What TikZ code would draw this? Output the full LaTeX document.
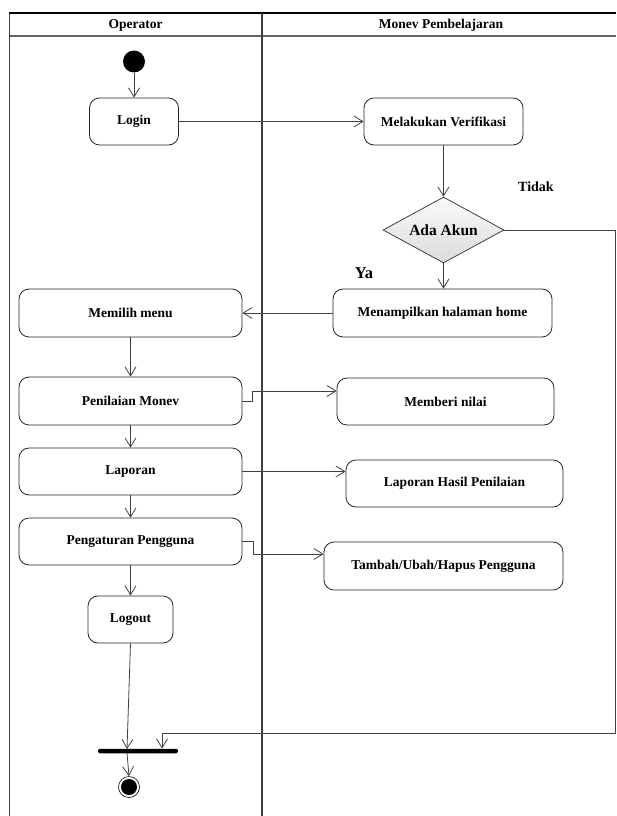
\documentclass[tikz,border=0pt]{standalone}
\usepackage{fontspec}
\setmainfont{Liberation Serif}
\usetikzlibrary{arrows.meta,shapes.geometric}
\begin{document}
\begin{tikzpicture}[x=1pt,y=-1pt,
  act/.style={draw=black!85, line width=0.8pt, rounded corners=10pt, inner sep=0pt,
    font=\fontsize{13.5}{16}\selectfont\bfseries, align=center},
  arr/.style={draw=black!75, line width=0.8pt, -{Straight Barb[length=9pt,width=11pt,line width=0.8pt]}},
  lane/.style={draw=black!75, line width=1.4pt},
  hdr/.style={font=\fontsize{13.5}{16}\selectfont\bfseries},
  lbl/.style={font=\fontsize{14}{16}\selectfont\bfseries}
]
\useasboundingbox (0,0) rectangle (616,816);
% swimlanes
\draw[draw=black, line width=1.2pt] (9,13) -- (616,13);
\draw[draw=black!60, line width=1.4pt] (9,36) -- (616,36);
\draw[lane] (9.5,13) -- (9.5,816);
\draw[lane] (262,13) -- (262,816);
\node[hdr] (hop) at (135.5,25) {Operator};
\node[hdr] (hmp) at (441,25) {Monev Pembelajaran};

% nodes
\node[circle, fill=black, inner sep=0pt, minimum size=22pt] (start) at (134,61.5) {};
\node[act, minimum width=89pt, minimum height=47pt] (login) at (134,121.5) {Login};
\node[act, minimum width=159pt, minimum height=47pt] (verif) at (443.5,121.5) {Melakukan Verifikasi};
\node[diamond, draw=black!75, line width=0.8pt, top color=gray!4, bottom color=gray!28,
  inner sep=0pt, minimum width=121pt, minimum height=66pt, aspect=1.83,
  font=\fontsize{15.5}{18}\selectfont\bfseries] (akun) at (443.5,230) {Ada Akun};
\node[act, minimum width=219pt, minimum height=48pt] (menampil) at (442.5,313) {Menampilkan halaman home};
\node[act, minimum width=223pt, minimum height=48pt] (memilih) at (130.5,313) {Memilih menu};
\node[act, minimum width=223pt, minimum height=48pt] (penilaian) at (130.5,401) {Penilaian Monev};
\node[act, minimum width=217pt, minimum height=47pt] (memberi) at (445.5,401.5) {Memberi nilai};
\node[act, minimum width=223pt, minimum height=47pt] (laporan) at (130.5,471.5) {Laporan};
\node[act, minimum width=217pt, minimum height=47pt] (laphasil) at (454.5,483.5) {Laporan Hasil Penilaian};
\node[act, minimum width=223pt, minimum height=47pt] (pengaturan) at (130.5,541.5) {Pengaturan Pengguna};
\node[act, minimum width=239pt, minimum height=48pt] (tambah) at (443.5,566) {Tambah/Ubah/Hapus Pengguna};
\node[act, minimum width=85pt, minimum height=47pt] (logout) at (130.5,619.5) {Logout};
\node[fill=black, rounded corners=2pt, inner sep=0pt, minimum width=80pt, minimum height=4.5pt] (bar) at (138,751) {};
\node[circle, draw=black, line width=0.6pt, inner sep=0pt, minimum size=21pt] (end) at (129,787) {};
\node[circle, fill=black, inner sep=0pt, minimum size=16pt] (endin) at (129,787) {};

% labels
\node[lbl] (tidak) at (536,187) {Tidak};
\node[font=\fontsize{16.5}{18}\selectfont\bfseries] (ya) at (364,273) {Ya};

% helper coordinates
\coordinate (tr) at (615,230);
\coordinate (bl) at (162,733);
\coordinate (p1) at (252,391);
\coordinate (p2) at (253,554);
\coordinate (lb) at (127,749);
\coordinate (lbo) at (127,753);

% connectors
\draw[arr] (start) -- (login);
\draw[arr] (login.east) -- (verif.west);
\draw[arr] (verif.south) -- (akun.north);
\draw[arr] (akun.south) -- (akun.south |- menampil.north);
\draw[arr] (akun.east) -- (tr) |- (bl) -- (bl |- bar.north);
\draw[arr] (menampil.west) -- (memilih.east);
\draw[arr] (memilih.south) -- (penilaian.north);
\draw[arr] (penilaian.east) -| (p1) -- (p1 -| memberi.west);
\draw[arr] (penilaian.south) -- (laporan.north);
\draw[arr] (laporan.east) -- (laporan.east -| laphasil.west);
\draw[arr] (laporan.south) -- (pengaturan.north);
\draw[arr] (pengaturan.east) -| (p2) -- (p2 -| tambah.west);
\draw[arr] (pengaturan.south) -- (logout.north);
\draw[arr] (logout.south) -- (lb);
\draw[arr] (lbo) -- (end.north);
\end{tikzpicture}
\end{document}
